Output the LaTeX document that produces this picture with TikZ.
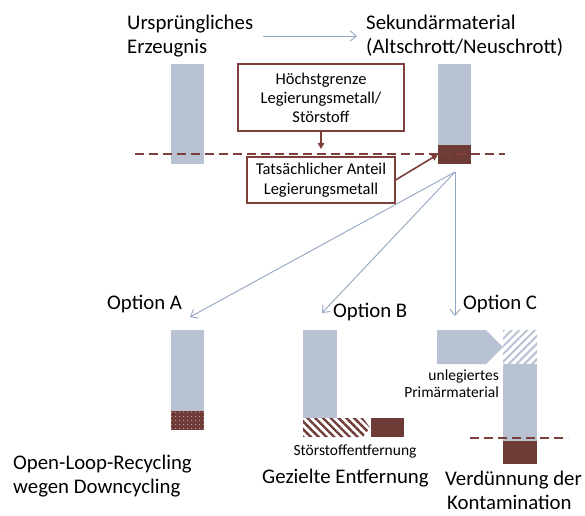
\documentclass[tikz,border=0pt]{standalone}
\usepackage{fontspec}
\setmainfont{Carlito}
\usetikzlibrary{arrows.meta,patterns.meta}

\definecolor{barblue}{HTML}{B8C2D2}
\definecolor{contred}{HTML}{6F3B37}
\definecolor{boxred}{HTML}{7E3E3A}
\definecolor{flowblue}{HTML}{94A6C2}

\begin{document}
\begin{tikzpicture}[x=1pt,y=-1pt,
  bar/.style={fill=barblue},
  contam/.style={fill=contred},
  bigtext/.style={font=\fontsize{20.8}{24}\selectfont, inner sep=0, anchor=base west},
  smalltext/.style={font=\fontsize{15.5}{17}\selectfont, inner sep=0},
  infobox/.style={draw=boxred, line width=1.1pt, fill=white,
    font=\fontsize{16.5}{19}\selectfont, align=center, inner sep=0},
  flow/.style={draw=flowblue, line width=0.9pt, -{Straight Barb[length=6pt,width=10pt]}},
  redarrow/.style={draw=boxred, line width=1.6pt, -{Triangle[length=6pt,width=6.5pt]}},
  limitline/.style={draw=boxred, line width=1.1pt, dash pattern=on 9pt off 5pt}]

\useasboundingbox (0,0) rectangle (585,515);

% headings
\node[bigtext] (orig1) at (127,29) {Ursprüngliches};
\node[bigtext] (orig2) at (127,53) {Erzeugnis};
\node[bigtext] (sec1) at (366,29) {Sekundärmaterial};
\node[bigtext] (sec2) at (366,53) {(Altschrott/Neuschrott)};
\coordinate (topfrom) at (263,36);
\coordinate (topto) at (357,36);
\draw[flow] (topfrom) -- (topto);

% original product and secondary material
\fill[bar] (171,64) rectangle (204,164);
\fill[bar] (438,64) rectangle (471,145);
\node[contam, minimum width=33, minimum height=19, inner sep=0] (scrap) at (454.5,154.5) {};

% limit line
\coordinate (limL) at (135,154);
\coordinate (limR) at (505,154);
\draw[limitline] (limL) -- (limR);

% explanation boxes
\node[infobox, minimum width=166, minimum height=67] (limitbox) at (321,97.5)
  {Höchstgrenze\\Legierungsmetall/\\Störstoff};
\coordinate (limitpt) at (321,149);
\draw[redarrow] (limitbox.south) -- (limitpt);

\node[infobox, font=\fontsize{16.5}{20}\selectfont, minimum width=148, minimum height=46] (actual) at (321,180)
  {Tatsächlicher Anteil\\Legierungsmetall};
\draw[redarrow] (actual.east) -- (scrap.west);

% options
\coordinate (split) at (455,172);
\coordinate (toA) at (190,317);
\coordinate (toB) at (322,313);
\coordinate (toC) at (455,316);
\draw[flow] (split) -- (toA);
\draw[flow] (split) -- (toB);
\draw[flow] (split) -- (toC);

\node[bigtext] (optA) at (107,309) {Option A};
\node[bigtext] (optB) at (333,317) {Option B};
\node[bigtext] (optC) at (463,309) {Option C};

% option A: open-loop recycling
\fill[bar] (171,330) rectangle (204,411);
\fill[contam] (171,411) rectangle (204,430);
\fill[pattern={Dots[radius=0.55pt,distance=4pt]}, pattern color=white!85!contred] (171,411) rectangle (204,430);

% option B: targeted removal
\fill[bar] (303,330) rectangle (337,418);
\fill[pattern={Lines[angle=-45,distance=5.5pt,line width=2.4pt]}, pattern color=contred]
  (303,418) -- (363,418) -- (370,427.5) -- (363,437) -- (303,437) -- cycle;
\fill[contam] (371,418) rectangle (404,437);
\node[smalltext, anchor=base] (removal) at (355,455) {Störstoffentfernung};

% option C: dilution
\fill[bar] (437,330) -- (486,330) -- (503,347) -- (486,364) -- (437,364) -- cycle;
\fill[pattern={Lines[angle=45,distance=5.5pt,line width=2pt]}, pattern color=barblue]
  (503,330) rectangle (537,364);
\fill[bar] (503,364) rectangle (537,441);
\fill[contam] (503,441) rectangle (537,464);
\coordinate (dilL) at (470,438);
\coordinate (dilR) at (568,438);
\draw[limitline] (dilL) -- (dilR);
\node[smalltext, anchor=base east] (prim1) at (499,380) {unlegiertes};
\node[smalltext, anchor=base east] (prim2) at (499,397) {Primärmaterial};

% captions
\node[bigtext] (capA1) at (13,469) {Open-Loop-Recycling};
\node[bigtext] (capA2) at (13,493) {wegen Downcycling};
\node[bigtext] (capB) at (262,483) {Gezielte Entfernung};
\node[bigtext] (capC1) at (445,485) {Verdünnung der};
\node[bigtext] (capC2) at (447,509) {Kontamination};
\end{tikzpicture}
\end{document}
